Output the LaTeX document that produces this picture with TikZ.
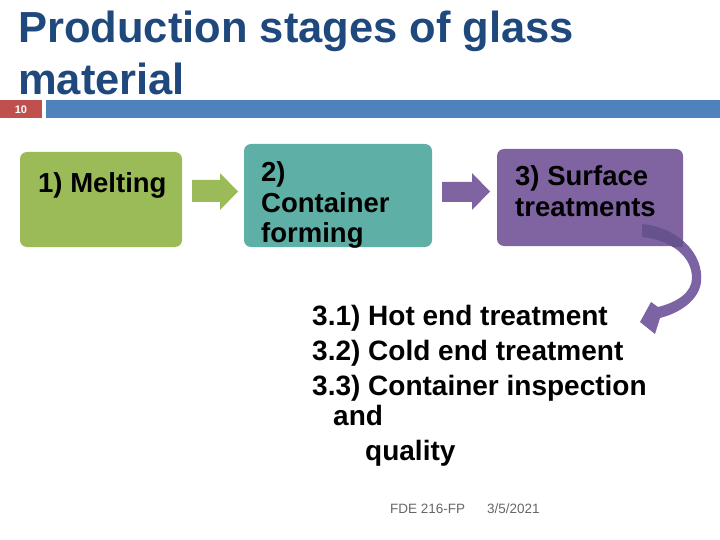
\documentclass[tikz,border=0pt]{standalone}
\usepackage{fontspec}
\setmainfont{Liberation Sans}
\usepackage{tikz}
\definecolor{titleblue}{HTML}{1F497D}
\definecolor{barblue}{HTML}{4F81BD}
\definecolor{barred}{HTML}{C0504D}
\definecolor{meltgreen}{HTML}{9BBB59}
\definecolor{formteal}{HTML}{5EAFA5}
\definecolor{surfpurple}{HTML}{8064A2}
\definecolor{turnpurple}{HTML}{7C63A4}
\definecolor{turndark}{HTML}{66528C}
\definecolor{footgray}{HTML}{666666}

\begin{document}
\begin{tikzpicture}[
    x=1pt, y=-1pt,
    stage/.style={rounded corners=7pt, inner sep=0pt},
    stagetext/.style={anchor=base west, inner sep=0pt, align=left,
      font=\fontsize{27.5}{30}\selectfont\bfseries},
    listtext/.style={anchor=base west, inner sep=0pt, font=\fontsize{28}{30}\selectfont\bfseries},
    titletext/.style={anchor=base west, inner sep=0pt, text=titleblue, font=\fontsize{43.5}{52}\selectfont\bfseries},
    foot/.style={anchor=base west, inner sep=0pt, text=footgray, font=\fontsize{13.5}{16}\selectfont}
  ]
  \useasboundingbox (0,0) rectangle (720,540);
  % Title and the bar below it.
  \node[titletext] (title1) at (18,43) {Production stages of glass};
  \node[titletext] (title2) at (18,95) {material};
  \fill[barred] (0,100) rectangle (42,118);
  \fill[barblue] (46,100) rectangle (720,118);
  \node[text=white, inner sep=0pt, font=\fontsize{11}{12}\selectfont\bfseries] (pagenum) at (21,109.5) {10};
  % Draw the stages.
  \node[stage, fill=meltgreen, minimum width=162pt, minimum height=95pt] (melt) at (101,199.5) {};
  \node[stage, fill=formteal, minimum width=188pt, minimum height=103pt] (form) at (338,195.5) {};
  \node[stage, fill=surfpurple, minimum width=186pt, minimum height=97pt] (surf) at (590,197.5) {};
  % (base of a multi-line node is its last line)
  \node[stagetext] (melttext) at (38,193) {1) Melting};
  \node[stagetext] (formtext) at (261,242) {2)\\Container\\forming};
  \node[stagetext] (surftext) at (515,216) {3) Surface\\treatments};
  % Draw the block arrows between the stages.
  \fill[meltgreen] (192,180) -- (220,180) -- (220,173) -- (238,191.5) -- (220,210) -- (220,202) -- (192,202) -- cycle;
  \fill[surfpurple] (442,182) -- (472,182) -- (472,173) -- (490,191.5) -- (472,210) -- (472,202) -- (442,202) -- cycle;
  % Draw the curved arrow down to the list.
  \def\turnpath{(642,224) .. controls (680,228) and (704,255) .. (701,282)
    .. controls (699,300) and (680,313) .. (660,318) -- (655,334) -- (640,322) -- (651,302) -- (658,307)
    .. controls (678,302) and (692,292) .. (692,278) .. controls (692,257) and (672,240) .. (642,237) -- cycle}
  \fill[turnpurple] \turnpath;
  \begin{scope}
    \clip (surf.south west) rectangle (surf.north east);
    \fill[turndark] \turnpath;
  \end{scope}
  % The list of surface treatments.
  \node[listtext] (hotend) at (312,325) {3.1) Hot end treatment};
  \node[listtext] (coldend) at (312,360) {3.2) Cold end treatment};
  \node[listtext] (inspect) at (312,395) {3.3) Container inspection};
  \node[listtext] (inspectand) at (333,425) {and};
  \node[listtext] (inspectqual) at (365,460) {quality};
  % Footer.
  \node[foot] (course) at (390,513) {FDE 216-FP};
  \node[foot] (date) at (487,513) {3/5/2021};
\end{tikzpicture}
\end{document}
